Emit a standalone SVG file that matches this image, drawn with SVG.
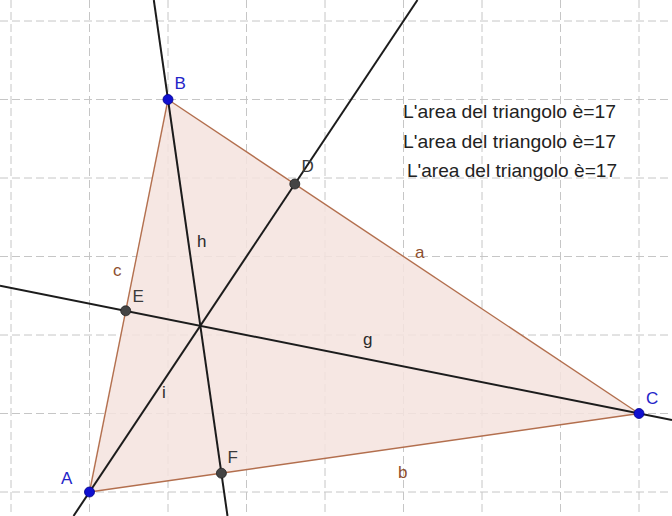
<svg xmlns="http://www.w3.org/2000/svg" width="672" height="516" viewBox="0 0 672 516">
<style>
.grid{stroke:#c6c6c6;stroke-width:1;stroke-dasharray:8 4;fill:none}
.alt{stroke:#1c1c1c;stroke-width:2;fill:none}
.edge{stroke:#b36f4e;stroke-width:1.4;fill:none}
.free{fill:#1010d0;stroke:#00008a;stroke-width:0.8}
.dep{fill:#444;stroke:#222;stroke-width:0.8}
.lblfree{font-family:"Liberation Sans",Arial,sans-serif;font-size:17px;fill:#2424c8}
.lbldep{font-family:"Liberation Sans",Arial,sans-serif;font-size:17px;fill:#3a3a3a}
.lblline{font-family:"Liberation Sans",Arial,sans-serif;font-size:17px;fill:#2a2a2a}
.lbledge{font-family:"Liberation Sans",Arial,sans-serif;font-size:17px;fill:#8e5030}
.area{font-family:"Liberation Sans",Arial,sans-serif;font-size:19px;fill:#222}
</style>
<rect width="672" height="516" fill="#ffffff"/>
<g id="grid">
<path class="grid" d="M11 0V516M89.5 0V516M168 0V516M246.5 0V516M325 0V516M403.5 0V516M482 0V516M560.5 0V516M639 0V516"/>
<path class="grid" d="M0 21H672M0 99.5H672M0 178H672M0 256.5H672M0 335H672M0 413.5H672M0 492H672"/>
</g>
<g id="triangle">
<polygon points="89.5,492 168,99.5 639,413.5" fill="#f4e3de" fill-opacity="0.85" stroke="none"/>
</g>
<g id="connectors">
<line id="h" class="alt" x1="153.8" y1="0" x2="227.5" y2="516"/>
<line id="i" class="alt" x1="73.5" y1="516" x2="417.5" y2="0"/>
<line id="g" class="alt" x1="0" y1="285.7" x2="672" y2="420.1"/>
<line id="a" class="edge" x1="168" y1="99.5" x2="639" y2="413.5"/>
<line id="b" class="edge" x1="89.5" y1="492" x2="639" y2="413.5"/>
<line id="c" class="edge" x1="89.5" y1="492" x2="168" y2="99.5"/>
</g>
<g id="line-labels">
<text class="lbledge" x="415" y="258">a</text>
<text class="lbledge" x="398" y="478">b</text>
<text class="lbledge" x="113" y="276">c</text>
<text class="lblline" x="363" y="345">g</text>
<text class="lblline" x="197" y="247">h</text>
<text class="lblline" x="162" y="398">i</text>
</g>
<g id="node-A"><circle class="free" cx="89.5" cy="492" r="5"/><text class="lblfree" x="61" y="484">A</text></g>
<g id="node-B"><circle class="free" cx="168" cy="99.5" r="5"/><text class="lblfree" x="174.5" y="89">B</text></g>
<g id="node-C"><circle class="free" cx="639" cy="413.5" r="5"/><text class="lblfree" x="646" y="404">C</text></g>
<g id="node-D"><circle class="dep" cx="294.8" cy="184" r="5"/><text class="lbldep" x="301.5" y="172">D</text></g>
<g id="node-E"><circle class="dep" cx="125.7" cy="310.8" r="5"/><text class="lbldep" x="132.5" y="302">E</text></g>
<g id="node-F"><circle class="dep" cx="221.4" cy="473.2" r="5"/><text class="lbldep" x="227.5" y="463">F</text></g>
<g id="area-text">
<text class="area" x="403" y="117.5" textLength="213" lengthAdjust="spacingAndGlyphs">L'area del triangolo è=17</text>
<text class="area" x="403" y="147.5" textLength="213" lengthAdjust="spacingAndGlyphs">L'area del triangolo è=17</text>
<text class="area" x="407" y="177" textLength="210" lengthAdjust="spacingAndGlyphs">L'area del triangolo è=17</text>
</g>
</svg>
